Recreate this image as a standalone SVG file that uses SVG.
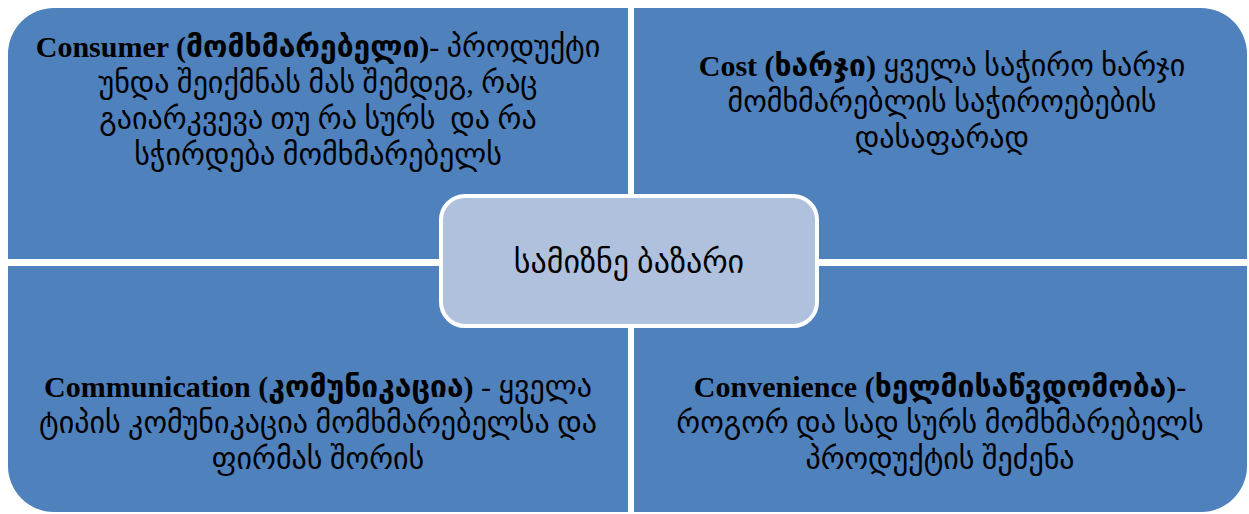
<svg xmlns="http://www.w3.org/2000/svg" width="1249" height="514" viewBox="0 0 1249 514">
  <style>
    .quad { fill: #4f81bd; }
    .hub { fill: #b0c1dd; stroke: #ffffff; stroke-width: 4; }
    .txt { font-family: "Liberation Serif", "DejaVu Sans", serif; font-size: 30px; fill: #000000; text-anchor: middle; }
    .b { font-weight: bold; }
    .hubtxt { font-size: 32px; }
  </style>
  <rect width="1249" height="514" fill="#ffffff"/>

  <g id="consumer">
    <path class="quad" d="M8,54 A46,46 0 0 1 54,8 L628,8 L628,259 L8,259 Z"/>
    <text class="txt" x="318" y="57"><tspan class="b">Consumer (მომხმარებელი)</tspan>- პროდუქტი</text>
    <text class="txt" x="318" y="93">უნდა შეიქმნას მას შემდეგ, რაც</text>
    <text class="txt" x="318" y="129" xml:space="preserve">გაიარკვევა თუ რა სურს  და რა</text>
    <text class="txt" x="318" y="165">სჭირდება მომხმარებელს</text>
  </g>

  <g id="cost">
    <path class="quad" d="M634,8 L1201,8 A46,46 0 0 1 1247,54 L1247,259 L634,259 Z"/>
    <text class="txt" x="942" y="76"><tspan class="b">Cost (ხარჯი)</tspan> ყველა საჭირო ხარჯი</text>
    <text class="txt" x="942" y="112">მომხმარებლის საჭიროებების</text>
    <text class="txt" x="942" y="148">დასაფარად</text>
  </g>

  <g id="communication">
    <path class="quad" d="M8,266 L628,266 L628,512 L54,512 A46,46 0 0 1 8,466 Z"/>
    <text class="txt" x="318" y="397"><tspan class="b">Communication (კომუნიკაცია)</tspan> - ყველა</text>
    <text class="txt" x="318" y="433">ტიპის კომუნიკაცია მომხმარებელსა და</text>
    <text class="txt" x="318" y="469">ფირმას შორის</text>
  </g>

  <g id="convenience">
    <path class="quad" d="M634,266 L1247,266 L1247,466 A46,46 0 0 1 1201,512 L634,512 Z"/>
    <text class="txt" x="940" y="397"><tspan class="b">Convenience (ხელმისაწვდომობა)</tspan>-</text>
    <text class="txt" x="940" y="433">როგორ და სად სურს მომხმარებელს</text>
    <text class="txt" x="940" y="469">პროდუქტის შეძენა</text>
  </g>

  <g id="target-market">
    <rect class="hub" x="441" y="196" width="376" height="130" rx="24" ry="24"/>
    <text class="txt hubtxt" x="629" y="273">სამიზნე ბაზარი</text>
  </g>
</svg>
